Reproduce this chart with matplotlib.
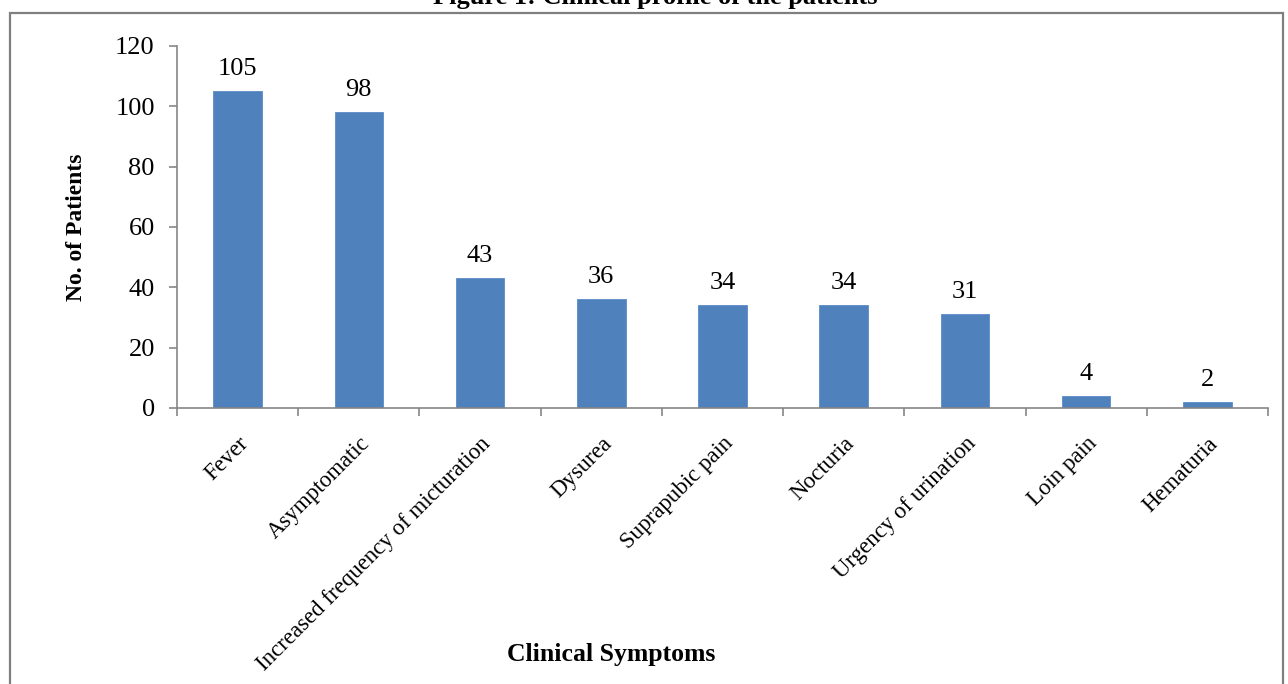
from __future__ import annotations

import matplotlib

matplotlib.use("Agg")

import matplotlib.pyplot as plt
from matplotlib.patches import Rectangle
from matplotlib.ticker import FixedLocator, MultipleLocator
from matplotlib.transforms import ScaledTranslation

CATEGORIES = [
    "Fever",
    "Asymptomatic",
    "Increased frequency of micturation",
    "Dysurea",
    "Suprapubic pain",
    "Nocturia",
    "Urgency of urination",
    "Loin pain",
    "Hematuria",
]
PATIENTS = [105, 98, 43, 36, 34, 34, 31, 4, 2]

TITLE = "Figure 1: Clinical profile of the patients"
X_LABEL = "Clinical Symptoms"
Y_LABEL = "No. of Patients"

BAR_COLOR = "#4F81BD"
AXIS_COLOR = "#868686"
FONT = ["Liberation Serif", "DejaVu Serif"]

W, H = 1288, 684


def draw_chart() -> plt.Figure:
    """Draw the bar chart in the style of the original Excel figure."""
    plt.rcParams["font.family"] = FONT

    fig = plt.figure(figsize=(W / 100, H / 100), dpi=100)
    ax = fig.add_axes([177 / W, 1 - 408 / H, (1268 - 177) / W, (408 - 46) / H])

    x = list(range(len(CATEGORIES)))
    bars = ax.bar(x, PATIENTS, width=0.4, color=BAR_COLOR, edgecolor="#5B8BC7", linewidth=0.6, zorder=2)

    for rect, val in zip(bars, PATIENTS):
        ax.annotate(
            f"{val}",
            xy=(rect.get_x() + rect.get_width() / 2, rect.get_height()),
            xytext=(0, 8),
            textcoords="offset points",
            ha="center",
            va="bottom",
            fontsize=19,
        )

    ax.set_xlim(-0.5, len(CATEGORIES) - 0.5)
    ax.set_ylim(0, 120)
    ax.yaxis.set_major_locator(MultipleLocator(20))

    # category labels without ticks, boundary ticks as minor ticks
    ax.set_xticks(x)
    ax.set_xticklabels(CATEGORIES, rotation=45, ha="right", rotation_mode="anchor", fontsize=16.5)
    shift = ScaledTranslation(-0.05, 0, fig.dpi_scale_trans)
    for lbl in ax.get_xticklabels():
        lbl.set_transform(lbl.get_transform() + shift)
    ax.xaxis.set_minor_locator(FixedLocator([i - 0.5 for i in range(len(CATEGORIES) + 1)]))
    ax.tick_params(axis="x", which="major", length=0, pad=18)
    ax.tick_params(axis="x", which="minor", length=6, width=1.2, color=AXIS_COLOR, direction="out")
    ax.tick_params(axis="y", length=6, width=1.2, color=AXIS_COLOR, labelsize=19, pad=10)

    for side in ("top", "right"):
        ax.spines[side].set_visible(False)
    for side in ("left", "bottom"):
        ax.spines[side].set_color(AXIS_COLOR)
        ax.spines[side].set_linewidth(1.2)

    ax.set_ylabel(Y_LABEL, fontsize=17, fontweight="bold", labelpad=20)
    fig.text(611 / W, 1 - 655 / H, X_LABEL, ha="center", va="center", fontsize=18.5, fontweight="bold")

    # title is mostly cut off at the top edge in the source image
    fig.text(655 / W, 1 - 4 / H, TITLE, ha="center", va="baseline", fontsize=19, fontweight="bold")

    border = Rectangle(
        (10 / W, -0.1),
        (1283 - 10) / W,
        1 - 13 / H + 0.1,
        transform=fig.transFigure,
        fill=False,
        edgecolor="#7F7F7F",
        linewidth=1.6,
    )
    fig.patches.append(border)

    return fig


def main() -> None:
    fig = draw_chart()
    fig.savefig("out.png", dpi=100)
    plt.close(fig)


if __name__ == "__main__":
    main()
